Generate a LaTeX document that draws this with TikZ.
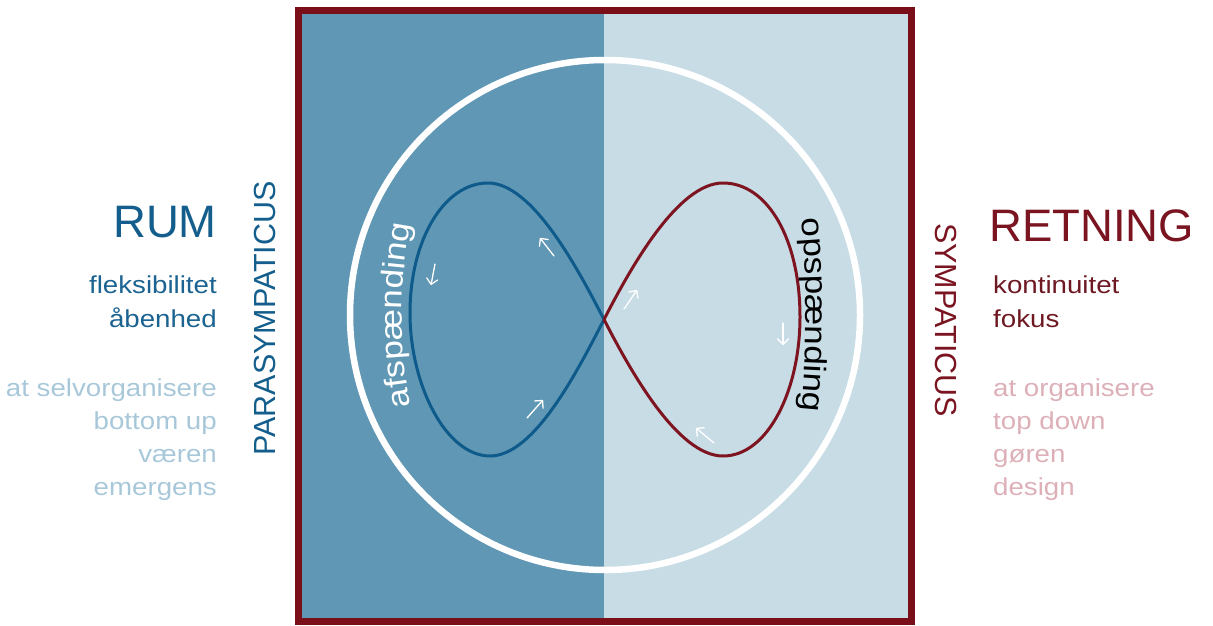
\documentclass[tikz,border=0pt]{standalone}
\usepackage{fontspec}
\setmainfont{Liberation Sans}
\newfontfamily\widefont[FakeStretch=1.13]{Liberation Sans}
\usetikzlibrary{arrows.meta,decorations.text}
\definecolor{panelblue}{HTML}{5F97B5}
\definecolor{panellight}{HTML}{C7DCE5}
\definecolor{framered}{HTML}{7A0E19}
\definecolor{loopblue}{HTML}{0E5B8B}
\definecolor{loopred}{HTML}{7E1420}
\definecolor{titleblue}{HTML}{135E8C}
\definecolor{textblue}{HTML}{1B6391}
\definecolor{paleblue}{HTML}{A8C8DA}
\definecolor{titlered}{HTML}{7A1420}
\definecolor{textred}{HTML}{6E1822}
\definecolor{palered}{HTML}{DDB0B8}
\tikzset{
  titletext/.style={font=\fontsize{45.5}{45.5}\selectfont, inner sep=0pt},
  bodytext/.style={font=\widefont\fontsize{24.5}{24.5}\selectfont, inner sep=0pt},
  verttext/.style={font=\fontsize{30.5}{30.5}\selectfont, inner sep=0pt},
  flowarrow/.style={white, line width=1.3pt, line cap=round, -{Straight Barb[length=5.5pt,width=11pt,round]}},
  loopline/.style={line width=3pt, line join=round}
}
\begin{document}
\begin{tikzpicture}[x=1pt,y=1pt]
\useasboundingbox (0,0) rectangle (1213,625);
% panels
\fill[panelblue] (298.5,3.5) rectangle (604,614.5);
\fill[panellight] (604,3.5) rectangle (911.5,614.5);
\draw[framered, line width=7pt] (298.5,3.5) rectangle (911.5,614.5);
% circle
\draw[white, line width=6.5pt] (605,310) circle[radius=255];
% figure eight
\coordinate (X) at (604,305.5);
\draw[loopblue, loopline] (X) .. controls (577,358) and (532,442) .. (488,442)
  .. controls (444,442) and (410,385) .. (410,312)
  .. controls (410,240) and (446,169) .. (490,169)
  .. controls (534,169) and (577,253) .. (X);
\draw[loopred, loopline] (X) .. controls (631,358) and (678,442) .. (723,442)
  .. controls (768,442) and (800,385) .. (800,308)
  .. controls (800,235) and (768,169) .. (723,169)
  .. controls (678,169) and (631,253) .. (X);
% flow arrows
\draw[flowarrow] (554,369) -- (540,387);
\draw[flowarrow] (435,361) -- (431,340);
\draw[flowarrow] (527,207) -- (543,225);
\draw[flowarrow] (624,316) -- (637,335);
\draw[flowarrow] (783,302) -- (783,280);
\draw[flowarrow] (714,182) -- (696,197);
% curved labels
\path[decorate, decoration={text along path, text align=center, text color=white,
  text={|\widefont\fontsize{31}{31}\selectfont|afspænding}}]
  (902,310) ++(195:500) arc[start angle=195, end angle=165, radius=500];
\path[decorate, decoration={text along path, text align=center, text color=black,
  text={|\widefont\fontsize{31}{31}\selectfont|opspænding}}]
  (-194,310) ++(8:1000) arc[start angle=8, end angle=-8, radius=1000];
% vertical labels
\node[verttext, text=titleblue, rotate=90, anchor=base] (para) at (275,306.5) {PARASYMPATICUS};
\node[verttext, text=titlered, rotate=-90, anchor=base] (symp) at (935,305) {SYMPATICUS};
% left labels
\node[titletext, text=titleblue, anchor=base east] (rum) at (217,387) {RUM};
\node[bodytext, text=textblue, anchor=base east] (fleks) at (217,332) {fleksibilitet};
\node[bodytext, text=textblue, anchor=base east] (aaben) at (217,298) {åbenhed};
\node[bodytext, text=paleblue, anchor=base east] (selvorg) at (217,229) {at selvorganisere};
\node[bodytext, text=paleblue, anchor=base east] (bottom) at (217,196) {bottom up};
\node[bodytext, text=paleblue, anchor=base east] (vaeren) at (217,163) {væren};
\node[bodytext, text=paleblue, anchor=base east] (emerg) at (217,130) {emergens};
% right labels
\node[titletext, text=titlered, anchor=base west] (retn) at (989,384) {RETNING};
\node[bodytext, text=textred, anchor=base west] (kont) at (993,332) {kontinuitet};
\node[bodytext, text=textred, anchor=base west] (fokus) at (993,298) {fokus};
\node[bodytext, text=palered, anchor=base west] (org) at (993,229) {at organisere};
\node[bodytext, text=palered, anchor=base west] (top) at (993,196) {top down};
\node[bodytext, text=palered, anchor=base west] (goeren) at (993,163) {gøren};
\node[bodytext, text=palered, anchor=base west] (design) at (993,130) {design};
\end{tikzpicture}
\end{document}
